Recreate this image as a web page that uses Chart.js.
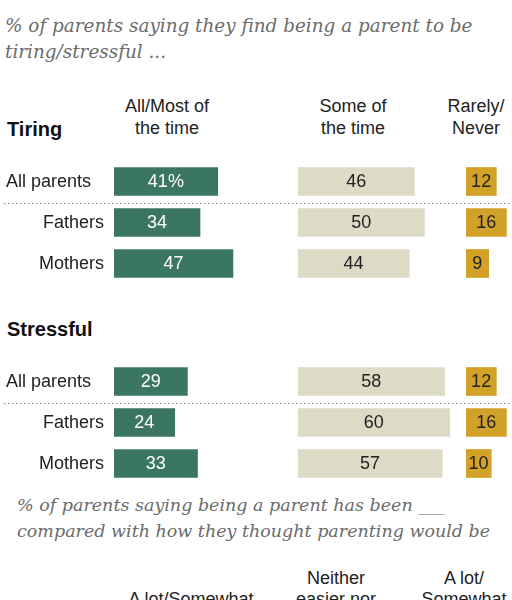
<!DOCTYPE html>
<html>
<head>
<meta charset="utf-8">
<script src="https://cdn.jsdelivr.net/npm/chart.js@4.4.1/dist/chart.umd.min.js"></script>
<style>
  html, body { margin:0; padding:0; background:#fff; }
  body { width:512px; height:600px; overflow:hidden; position:relative; }
  .t { position:absolute; white-space:nowrap; line-height:1; }
  .ttl { font-family:"DejaVu Serif", serif; font-style:italic; font-size:18.4px; color:#6b6b6b; left:5px; }
  .ttl2 { font-size:17.5px; left:17px; }
  .sec { font-family:"Liberation Sans", Arial, sans-serif; font-weight:bold; font-size:20px; color:#111; left:7px; }
  .hdr { font-family:"Liberation Sans", Arial, sans-serif; font-size:18px; color:#222; width:160px; text-align:center; }
  .chartbox { position:absolute; left:0; width:512px; height:123px; }
</style>
</head>
<body>
<div class="t ttl" style="top:17px;">% of parents saying they find being a parent to be</div>
<div class="t ttl" style="top:42.5px;">tiring/stressful ...</div>

<div class="t sec" style="top:119px;">Tiring</div>
<div id="hdrTiring"></div>
<div class="chartbox" style="top:161px;"><canvas id="cTiring"></canvas></div>

<div class="t sec" style="top:319px;">Stressful</div>
<div class="chartbox" style="top:361px;"><canvas id="cStress"></canvas></div>

<div class="t ttl ttl2" style="top:497px;">% of parents saying being a parent has been ___</div>
<div class="t ttl ttl2" style="top:523px;">compared with how they thought parenting would be</div>
<div id="hdrCompare"></div>

<script>
// ---- data ----
const categories = ['All parents', 'Fathers', 'Mothers'];
const seriesNames = ['All/Most of the time', 'Some of the time', 'Rarely/Never'];
const tiringMost   = [41, 34, 47];
const tiringSome   = [46, 50, 44];
const tiringRarely = [12, 16, 9];
const stressMost   = [29, 24, 33];
const stressSome   = [58, 60, 57];
const stressRarely = [12, 16, 10];
const tiringHeaders  = [['All/Most of', 'the time'], ['Some of', 'the time'], ['Rarely/', 'Never']];
const compareHeaders = [['', 'A lot/Somewhat'], ['Neither', 'easier nor'], ['A lot/', 'Somewhat']];

// ---- header text ----
function placeHeaders(containerId, headers, centers, baselines) {
  const c = document.getElementById(containerId);
  headers.forEach((lines, i) => {
    lines.forEach((txt, j) => {
      if (!txt) return;
      const d = document.createElement('div');
      d.className = 't hdr';
      d.textContent = txt;
      d.style.left = (centers[i] - 80) + 'px';
      d.style.top = (baselines[j] - 15.2) + 'px';
      c.appendChild(d);
    });
  });
}
placeHeaders('hdrTiring', tiringHeaders, [167, 353, 476], [112, 134]);
placeHeaders('hdrCompare', compareHeaders, [191, 336, 464], [584, 605]);

// ---- chart ----
const FONT = '18px "Liberation Sans", Arial, sans-serif';
const colors = ['#3b7563', '#dddac5', '#d2a127'];
const labelColors = ['#ffffff', '#222222', '#222222'];

const rowDecor = {
  id: 'rowDecor',
  afterDatasetsDraw(chart, args, opts) {
    const ctx = chart.ctx;
    const yScale = chart.scales.y;
    ctx.save();
    // category labels
    ctx.font = FONT;
    ctx.fillStyle = '#222';
    ctx.textBaseline = 'middle';
    chart.data.labels.forEach((lab, i) => {
      const y = yScale.getPixelForValue(i);
      if (i === 0) { ctx.textAlign = 'left'; ctx.fillText(lab, 6, y + 1); }
      else { ctx.textAlign = 'right'; ctx.fillText(lab, 104, y + 1); }
    });
    // dotted separator
    const ySep = (yScale.getPixelForValue(0) + yScale.getPixelForValue(1)) / 2 + 1.5;
    ctx.strokeStyle = '#8a8a8a';
    ctx.lineWidth = 1.2;
    ctx.setLineDash([1.5, 2.5]);
    ctx.beginPath();
    ctx.moveTo(4, ySep);
    ctx.lineTo(510, ySep);
    ctx.stroke();
    ctx.setLineDash([]);
    // value labels
    ctx.textAlign = 'center';
    chart.data.datasets.forEach((ds, di) => {
      const meta = chart.getDatasetMeta(di);
      ctx.fillStyle = labelColors[di];
      meta.data.forEach((bar, i) => {
        let txt = String(ds.data[i]);
        if (opts.pct && di === 0 && i === 0) txt += '%';
        ctx.fillText(txt, (bar.x + bar.base) / 2, bar.y + 1);
      });
    });
    ctx.restore();
  }
};

function makeChart(id, most, some, rarely, pct) {
  const mk = (label, data, i) => ({
    label, data, xAxisID: 'x' + (i + 1),
    backgroundColor: colors[i], borderWidth: 0,
    barThickness: 28, grouped: false
  });
  return new Chart(document.getElementById(id), {
    type: 'bar',
    data: {
      labels: categories,
      datasets: [mk(seriesNames[0], most, 0), mk(seriesNames[1], some, 1), mk(seriesNames[2], rarely, 2)]
    },
    options: {
      indexAxis: 'y',
      responsive: true,
      maintainAspectRatio: false,
      animation: false,
      layout: { padding: { left: 114, right: 0, top: 0, bottom: 0 } },
      plugins: { legend: { display: false }, tooltip: { enabled: false }, rowDecor: { pct } },
      scales: {
        x1: { type: 'linear', position: 'bottom', stack: 'cols', stackWeight: 72.7, min: 0, max: 72.7, display: false },
        x2: { type: 'linear', position: 'bottom', stack: 'cols', stackWeight: 66.4, min: 0, max: 66.4, display: false },
        x3: { type: 'linear', position: 'bottom', stack: 'cols', stackWeight: 18.2, min: 0, max: 18.2, display: false },
        y:  { type: 'category', display: false, offset: true }
      }
    },
    plugins: [rowDecor]
  });
}
makeChart('cTiring', tiringMost, tiringSome, tiringRarely, true);
makeChart('cStress', stressMost, stressSome, stressRarely, false);
</script>
</body>
</html>
